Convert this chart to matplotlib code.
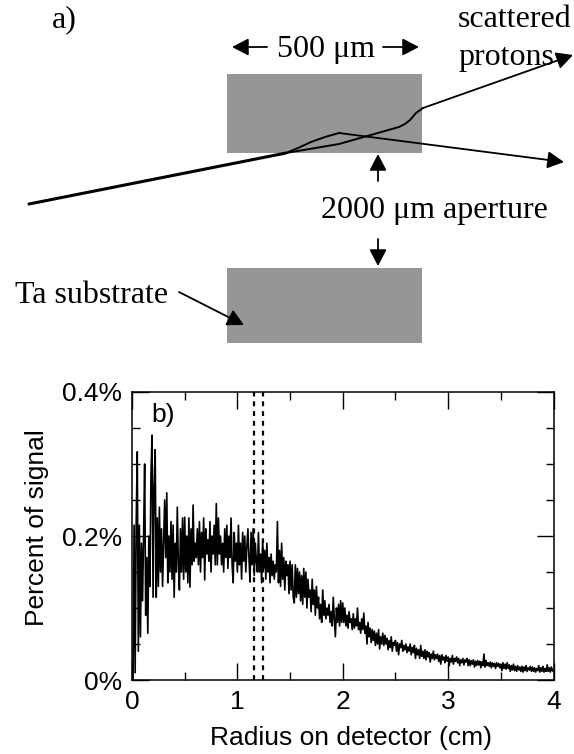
import numpy as np
import matplotlib
matplotlib.use('Agg')
import matplotlib.pyplot as plt
from matplotlib.patches import Rectangle
from matplotlib.ticker import MultipleLocator, FuncFormatter

# signal in percent, one value per 0.01 cm bin
signal = [
    0, 0, .215, .01, .22, .317, .04, .215, .06, .19,
    .11, .20, .30, .09, .17, .065, .20, .13, .285, .34,
    .115, .27, .32, .115, .225, .13, .24, .15, .21, .13,
    .19, .25, .17, .26, .135, .20, .15, .22, .14, .215,
    .115, .19, .15, .24, .16, .125, .21, .15, .225, .14,
    .226, .15, .20, .135, .225, .129, .21, .16, .243, .165,
    .19, .17, .21, .16, .22, .15, .205, .17, .225, .139,
    .21, .175, .195, .165, .22, .15, .20, .175, .215, .16,
    .245, .16, .225, .175, .20, .16, .19, .15, .21, .17,
    .215, .155, .20, .17, .225, .16, .135, .205, .165, .19,
    .15, .215, .16, .19, .14, .205, .165, .20, .15, .185,
    .21, .17, .136, .205, .16, .21, .145, .19, .165, .15,
    .205, .15, .175, .135, .195, .155, .18, .14, .19, .15,
    .17, .135, .175, .145, .165, .14, .16, .15, .22, .135,
    .18, .13, .19, .14, .17, .125, .165, .145, .16, .12,
    .165, .125, .16, .115, .107, .16, .115, .155, .12, .15,
    .11, .145, .105, .155, .115, .15, .10, .14, .115, .125,
    .095, .14, .105, .125, .09, .13, .10, .115, .085, .105,
    .08, .125, .09, .11, .085, .10, .09, .105, .08, .095,
    .075, .115, .085, .06, .10, .08, .105, .075, .11, .08,
    .107, .08, .10, .075, .09, .072, .095, .08, .085, .07,
    .092, .072, .085, .075, .10, .07, .08, .065, .085, .07,
    .093, .065, .075, .05, .08, .06, .072, .052, .07, .055,
    .068, .048, .065, .05, .07, .043, .06, .05, .065, .048,
    .062, .05, .058, .042, .055, .045, .06, .04, .052, .048,
    .055, .04, .052, .035, .05, .045, .055, .04, .048, .042,
    .05, .038, .046, .04, .05, .035, .045, .038, .048, .03,
    .044, .035, .042, .03, .048, .033, .04, .03, .042, .028,
    .04, .032, .038, .025, .036, .03, .04, .028, .035, .03,
    .036, .026, .034, .022, .035, .028, .032, .024, .034, .026,
    .032, .02, .03, .025, .034, .022, .03, .026, .032, .024,
    .03, .02, .028, .024, .03, .021, .028, .025, .03, .02,
    .028, .02, .027, .022, .028, .018, .026, .02, .027, .021,
    .026, .017, .025, .02, .036, .018, .027, .02, .024, .019,
    .025, .017, .024, .019, .023, .016, .024, .019, .023, .017,
    .022, .013, .024, .016, .022, .015, .024, .016, .021, .012,
    .02, .014, .022, .013, .019, .012, .02, .014, .018, .012,
    .019, .011, .018, .013, .02, .012, .017, .014, .019, .012,
    .018, .012, .017, .011, .016, .013, .02, .011, .017, .012,
    .019, .011, .016, .012, .021, .012, .017, .011, .018, .013,
    .012,
]
radius = np.arange(len(signal)) * 0.01
aperture_edges = [1.16, 1.245]

# schematic, in image pixels
substrates = [(227, 74, 195, 79), (227, 268, 195, 75)]
incoming_x = [29, 286]
incoming_y = [204, 153]
path_a_x = [286, 298, 311, 325, 339, 564]
path_a_y = [153, 148, 142, 137, 133, 162]
path_b_x = [286, 339, 399, 405, 410, 416, 423, 573]
path_b_y = [153, 144, 127, 124, 120, 113, 108, 55]
arrows = [
    ((267, 47), (232, 47)),
    ((383, 47), (419, 47)),
    ((378, 181), (378, 154)),
    ((378, 239), (378, 266)),
    ((179, 292), (244, 325)),
]
serif_labels = [
    (52, 27, 'a)', 'left'),
    (458, 27, 'scattered', 'left'),
    (458, 65, 'protons', 'left'),
    (326, 57, '500 \u03bcm', 'center'),
    (434, 218, '2000 \u03bcm aperture', 'center'),
    (15, 303, 'Ta substrate', 'left'),
]

fig = plt.figure(figsize=(5.74, 7.54), dpi=100)

sketch = fig.add_axes([0, 0, 1, 1])
sketch.set_xlim(0, 574)
sketch.set_ylim(754, 0)
sketch.axis('off')
for x0, y0, w, h in substrates:
    sketch.add_patch(Rectangle((x0, y0), w, h, fc='#969696', ec='none'))
sketch.plot(incoming_x, incoming_y, color='k', lw=2.2, solid_capstyle='round')
sketch.plot(path_a_x[:-1], path_a_y[:-1], color='k', lw=1.4)
sketch.plot(path_b_x[:-1], path_b_y[:-1], color='k', lw=1.4)
arrows.append(((path_a_x[-2], path_a_y[-2]), (path_a_x[-1], path_a_y[-1])))
arrows.append(((path_b_x[-2], path_b_y[-2]), (path_b_x[-1], path_b_y[-1])))
for start, end in arrows:
    sketch.annotate('', xy=end, xytext=start,
                    arrowprops=dict(arrowstyle='-|>,head_length=0.5,head_width=0.26', color='k',
                                    lw=1.3, shrinkA=0, shrinkB=0, mutation_scale=20))
for x, y, s, ha in serif_labels:
    sketch.text(x, y, s, ha=ha, va='baseline', fontsize=23, family='Liberation Serif', color='k')

ax = fig.add_axes([132 / 574, 1 - 680 / 754, 421.5 / 574, 288 / 754])
ax.plot(radius, signal, color='k', lw=1.2)
for edge in aperture_edges:
    ax.plot([edge, edge], [0, 0.4], color='k', lw=1.6, ls=(0, (2.2, 2.2)))
ax.set_xlim(0, 4)
ax.set_ylim(0, 0.4)
ax.patch.set_alpha(0)
ax.xaxis.set_major_locator(MultipleLocator(1))
ax.xaxis.set_minor_locator(MultipleLocator(0.5))
ax.yaxis.set_major_locator(MultipleLocator(0.2))
ax.yaxis.set_minor_locator(MultipleLocator(0.05))
ax.yaxis.set_major_formatter(FuncFormatter(lambda v, p: '0%' if v == 0 else '%.1f%%' % v))
ax.tick_params(which='major', direction='in', length=12, width=1, top=True, right=True,
               labelsize=19, pad=7, colors='k')
ax.tick_params(which='minor', direction='in', length=5.5, width=1, top=True, right=True)
for lab in ax.get_xticklabels() + ax.get_yticklabels():
    lab.set_family('Liberation Sans')
for spine in ax.spines.values():
    spine.set_linewidth(1.1)
ax.set_xlabel('Radius on detector (cm)', fontsize=19, family='Liberation Sans')
ax.set_ylabel('Percent of signal', fontsize=19, family='Liberation Sans')
ax.xaxis.set_label_coords(0.519, -0.225)
ax.yaxis.set_label_coords(-0.198, 0.528)
ax.xaxis.label.set_va('baseline')
ax.text(0.047, 0.896, 'b)', transform=ax.transAxes, fontsize=19, family='Liberation Sans', va='baseline')

fig.savefig('out.png', dpi=100)
